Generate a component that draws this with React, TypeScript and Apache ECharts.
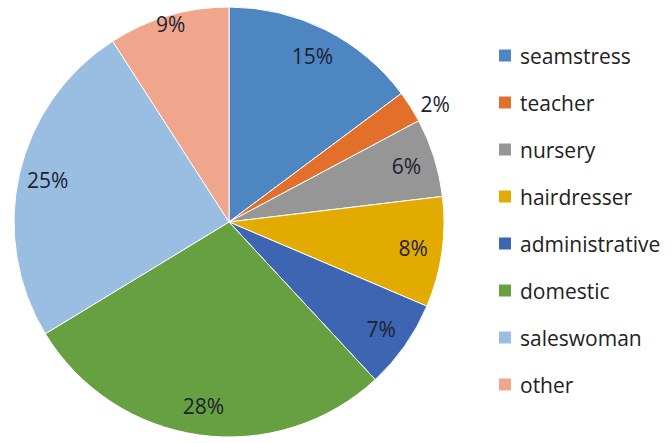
import React, { useEffect, useRef } from "react";
import * as echarts from "echarts";

const categories = ["seamstress", "teacher", "nursery", "hairdresser", "administrative", "domestic", "saleswoman", "other"];
const values = [14.8, 2.4, 5.9, 8.3, 6.7, 28.2, 24.6, 9.1];
const colors = ["#4e86c1", "#e2702b", "#969696", "#e3ab00", "#3d65b1", "#67a040", "#9abde2", "#f0a68c"];

export default function App() {
  const ref = useRef<HTMLDivElement>(null);
  useEffect(() => {
    const chart = echarts.init(ref.current!, undefined, { renderer: "svg" });
    const font = "'Open Sans', sans-serif";
    const data = categories.map((name, i) => ({ name, value: values[i], itemStyle: { color: colors[i] } }));
    const labelStyle = {
      show: true,
      position: "inside" as const,
      fontFamily: font,
      fontSize: 21,
      color: "#1c2233",
      formatter: (p: any) => Math.round(p.percent) + "%",
    };
    const labelData = (outer: boolean) =>
      categories.map((name, i) => ({
        name,
        value: values[i],
        label:
          name === "teacher"
            ? { show: !outer, position: "outside" as const }
            : { show: outer ? name === "other" : name !== "other" },
        labelLine: { show: false, length: 6, length2: 0 },
      }));
    chart.setOption({
      animation: false,
      backgroundColor: "#ffffff",
      legend: {
        orient: "vertical",
        left: 492,
        top: 40,
        itemWidth: 14,
        itemHeight: 14,
        itemGap: 26,
        icon: "rect",
        data: categories,
        textStyle: { fontFamily: font, fontSize: 21, color: "#222", padding: [0, 0, 0, 3] },
      },
      series: [
        {
          type: "pie",
          center: [229, 222],
          radius: [0, 215],
          startAngle: 90,
          clockwise: true,
          label: { show: false },
          labelLine: { show: false },
          itemStyle: { borderColor: "#ffffff", borderWidth: 1 },
          data,
          silent: true,
        },
        {
          type: "pie",
          center: [229, 222],
          radius: [151, 215],
          startAngle: 90,
          clockwise: true,
          silent: true,
          legendHoverLink: false,
          itemStyle: { color: "rgba(0,0,0,0)" },
          label: labelStyle,
          data: labelData(false),
        },
        {
          type: "pie",
          center: [229, 222],
          radius: [192, 215],
          startAngle: 90,
          clockwise: true,
          silent: true,
          legendHoverLink: false,
          itemStyle: { color: "rgba(0,0,0,0)" },
          label: labelStyle,
          data: labelData(true),
        },
      ],
    });
    return () => chart.dispose();
  }, []);
  return <div ref={ref} style={{ position: "absolute", left: 0, top: 0, width: 671, height: 443 }} />;
}
